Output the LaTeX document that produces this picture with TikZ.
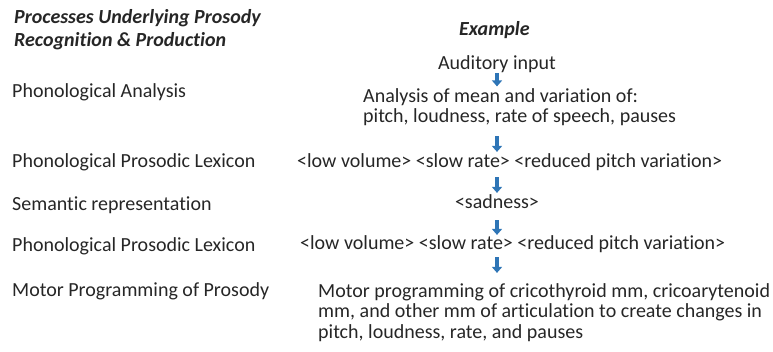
\documentclass[tikz,border=0pt]{standalone}
\usepackage{fontspec}
\setmainfont{Carlito}[Ligatures=NoCommon]
\usetikzlibrary{arrows.meta}
\definecolor{arrowblue}{HTML}{2E75B6}

\begin{document}
\begin{tikzpicture}[
x=1pt, y=-1pt,
    H/.style = {anchor=base west, inner sep=0pt, align=left,% heading texts
                font=\fontsize{20}{23}\selectfont\bfseries\itshape, text=black!85},
    L/.style = {anchor=base west, inner sep=0pt,% process names (left column)
                font=\fontsize{20}{20.5}\selectfont, text=black!85},
    R/.style = {anchor=base west, inner sep=0pt, align=left,% examples (right column)
                font=\fontsize{20}{20.5}\selectfont, text=black!85},
    A/.style = {draw=arrowblue, line width=4pt,
                -{Triangle[width=10pt,length=6pt]}},
                        ]
\useasboundingbox (0,0) rectangle (773,352);
% left column (multi-line nodes sit on their last line)
\node[H] (proc) at (14,47) {Processes Underlying Prosody\\Recognition \& Production};
\node[L] (pa)   at (12,98)  {Phonological Analysis};
\node[L] (ppl1) at (12,168) {Phonological Prosodic Lexicon};
\node[L] (sem)  at (12,211) {Semantic representation};
\node[L] (ppl2) at (12,252) {Phonological Prosodic Lexicon};
\node[L] (mp)   at (12,297) {Motor Programming of Prosody};
% right column
\node[H] (ex)   at (459,36) {Example};
\node[R, anchor=base] (aud) at (497,70) {Auditory input};
\node[R] (ana)  at (363,123) {Analysis of mean and variation of:\\pitch, loudness, rate of speech, pauses};
\node[R] (lex1) at (297,168) {<low volume> <slow rate> <reduced pitch variation>};
\node[R, anchor=base] (sad) at (497,209) {<sadness>};
\node[R] (lex2) at (300,250) {<low volume> <slow rate> <reduced pitch variation>};
\node[R] (mot)  at (318,338) {Motor programming of cricothyroid mm, cricoarytenoid\\mm, and other mm of articulation to create changes in\\pitch, loudness, rate, and pauses};
% arrows
\foreach \s/\t/\a/\b in {aud/ana/0/2, ana/lex1/10/2, lex1/sad/6/2, sad/lex2/11/1, lex2/mot/4/10}
    \draw[A, shorten <=\a pt, shorten >=\b pt] (sad.south |- \s.south) -- (sad.south |- \t.north);
\end{tikzpicture}
\end{document}
